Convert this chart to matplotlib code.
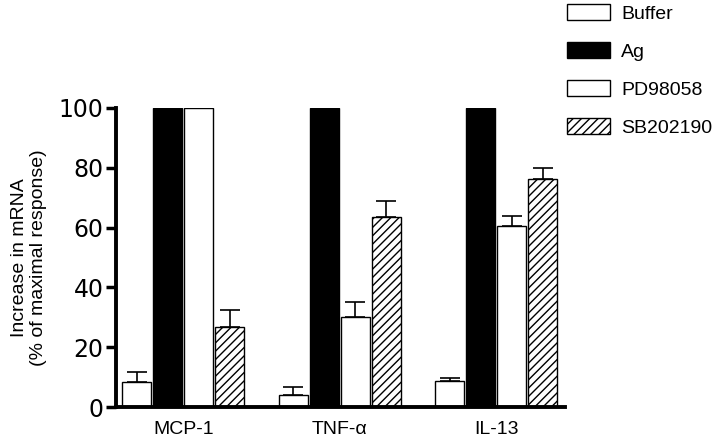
import matplotlib.pyplot as plt
import numpy as np
from matplotlib.patches import Patch

plt.rcParams['hatch.linewidth'] = 1.0
plt.rcParams['font.family'] = ['Liberation Sans', 'DejaVu Sans']

genes = ["MCP-1", "TNF-\u03b1", "IL-13"]
series = ["Buffer", "Ag", "PD98058", "SB202190"]
buffer_vals = [8.3, 4.2, 8.8]
buffer_err = [3.5, 2.6, 1.0]
ag_vals = [100, 100, 100]
pd_vals = [100, 30.1, 60.4]
pd_err = [0, 5.0, 3.4]
sb_vals = [26.6, 63.4, 76.2]
sb_err = [6.0, 5.6, 3.8]

fig = plt.figure(figsize=(7.2, 4.42), dpi=100)
ax = fig.add_axes([0.161, 0.079, 0.624, 0.677])

x = np.arange(len(genes))
w = 0.185
step = 0.198
styles = [
    dict(facecolor="white", hatch=None),
    dict(facecolor="black", hatch=None),
    dict(facecolor="white", hatch=None),
    dict(facecolor="white", hatch="////"),
]
vals = [buffer_vals, ag_vals, pd_vals, sb_vals]
errs = [buffer_err, None, pd_err, sb_err]

for i in range(4):
    pos = x + (i - 1.5) * step
    ax.bar(pos, vals[i], width=w, edgecolor="black", linewidth=1.0, zorder=2, **styles[i])
    if errs[i] is not None:
        e = np.array(errs[i])
        m = e > 0
        ax.errorbar(pos[m], np.array(vals[i])[m], yerr=[np.zeros(m.sum()), e[m]],
                    fmt="none", ecolor="black", elinewidth=1.2, capsize=7, capthick=1.2, zorder=3)

ax.set_xlim(-0.43, 2.44)
ax.set_ylim(0, 100)
ax.set_yticks([0, 20, 40, 60, 80, 100])
ax.set_xticks(x)
ax.set_xticklabels(genes, fontsize=14)
ax.tick_params(axis="x", length=0, pad=10)
ax.tick_params(axis="y", width=2.5, length=7, pad=2)
for lab in ax.get_yticklabels():
    lab.set_fontfamily("DejaVu Sans")
    lab.set_fontsize(17)
for s in ["top", "right"]:
    ax.spines[s].set_visible(False)
ax.spines["left"].set_linewidth(2.8)
ax.spines["bottom"].set_linewidth(2.8)
ax.set_ylabel("Increase in mRNA\n(% of maximal response)", fontsize=14, labelpad=8)

handles = [Patch(edgecolor="black", linewidth=1.0, label=series[i], **styles[i]) for i in range(4)]
fig.legend(handles=handles, loc="upper left", bbox_to_anchor=(0.763, 1.03), frameon=False,
           fontsize=14, handlelength=2.2, handleheight=0.85, labelspacing=1.0, handletextpad=0.6)

fig.savefig("out.png", dpi=100)
